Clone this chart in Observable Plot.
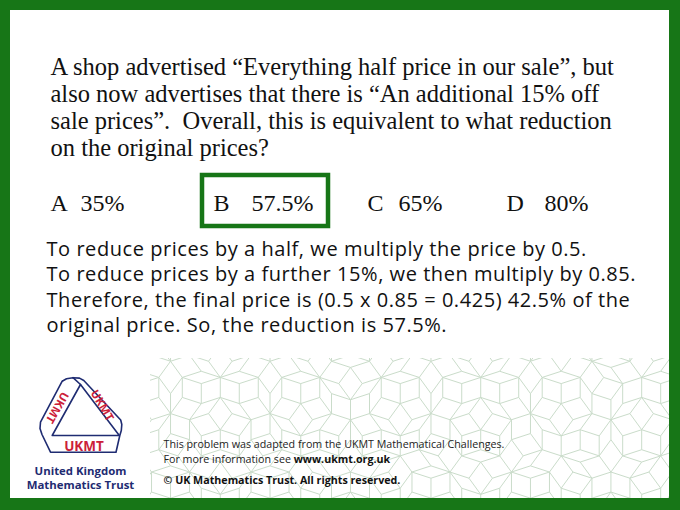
<!DOCTYPE html>
<html>
<head>
<meta charset="utf-8">
<script src="https://cdn.jsdelivr.net/npm/d3@7"></script>
<script src="https://cdn.jsdelivr.net/npm/@observablehq/plot@0.6"></script>
<style>
  html, body { margin: 0; padding: 0; background: #fff; }
  #chart svg { display: block; }
</style>
</head>
<body>
<div id="chart"></div>
<script>
// ---------- content ----------
const questionLines = [
  "A shop advertised “Everything half price in our sale”, but",
  "also now advertises that there is “An additional 15% off",
  "sale prices”.\u00a0 Overall, this is equivalent to what reduction",
  "on the original prices?"
];
const optionLetters = ["A", "B", "C", "D"];
const optionValues = ["35%", "57.5%", "65%", "80%"];
const correctOption = "B";
const explanationLines = [
  "To reduce prices by a half, we multiply the price by 0.5.",
  "To reduce prices by a further 15%, we then multiply by 0.85.",
  "Therefore, the final price is (0.5 x 0.85 = 0.425) 42.5% of the",
  "original price. So, the reduction is 57.5%."
];
const footerLine1 = "This problem was adapted from the UKMT Mathematical Challenges.";
const footerLine2a = "For more information see ";
const footerLine2b = "www.ukmt.org.uk";
const footerLine3 = "© UK Mathematics Trust. All rights reserved.";
const logoName = ["United Kingdom", "Mathematics Trust"];
const logoBand = "UKMT";

// ---------- layout & style ----------
const W = 680, H = 510;
const GREEN = "#177617";
const inner = {x1: 10, x2: 669, y1: 10, y2: 498};
const patternBox = {x1: 150, x2: 669, y1: 358, y2: 498};
const q = {x: 50, y0: 74, dy: 27, size: 24.5, font: "'Liberation Serif', 'Times New Roman', serif"};
const opt = {y: 210, size: 24, letterX: [50, 213, 367, 506], valueX: [80, 251, 398, 544]};
const box = {x1: 202, x2: 328, y1: 175, y2: 226};
const ex = {x: 46, y0: 255, dy: 25.5, size: 20, spacing: 0.55, font: "'Open Sans', sans-serif"};
const foot = {x: 163, y: [447, 462, 483], size: 10.7};
const NAVY = "#1f2c72", RED = "#cc1f3a";

// ---------- Penrose rhombus background (decoration) ----------
function penroseSegments(cx, cy, R, n) {
  const phi = (1 + Math.sqrt(5)) / 2;
  let tris = [];
  for (let i = 0; i < 10; i++) {
    let b = [R * Math.cos((2 * i - 1) * Math.PI / 10), R * Math.sin((2 * i - 1) * Math.PI / 10)];
    let c = [R * Math.cos((2 * i + 1) * Math.PI / 10), R * Math.sin((2 * i + 1) * Math.PI / 10)];
    if (i % 2 === 0) [b, c] = [c, b];
    tris.push([0, [0, 0], b, c]);
  }
  const lerp = (p, s, t) => [p[0] + (s[0] - p[0]) * t, p[1] + (s[1] - p[1]) * t];
  for (let k = 0; k < n; k++) {
    const next = [];
    for (const [col, A, B, C] of tris) {
      if (col === 0) {
        const P = lerp(A, B, 1 / phi);
        next.push([0, C, P, B], [1, P, C, A]);
      } else {
        const Q = lerp(B, A, 1 / phi), Rr = lerp(B, C, 1 / phi);
        next.push([1, Rr, C, A], [1, Q, Rr, B], [0, Rr, Q, A]);
      }
    }
    tris = next;
  }
  const seen = new Set(), segs = [];
  const inside = p => p[0] > patternBox.x1 - 30 && p[0] < patternBox.x2 + 30 && p[1] > patternBox.y1 - 30 && p[1] < patternBox.y2 + 30;
  const add = (p, s) => {
    const a = [p[0] + cx, p[1] + cy], b = [s[0] + cx, s[1] + cy];
    if (!inside(a) && !inside(b)) return;
    const k1 = a.map(v => v.toFixed(1)).join(","), k2 = b.map(v => v.toFixed(1)).join(",");
    const key = k1 < k2 ? k1 + "|" + k2 : k2 + "|" + k1;
    if (seen.has(key)) return;
    seen.add(key);
    segs.push({x1: a[0], y1: a[1], x2: b[0], y2: b[1]});
  };
  for (const [, A, B, C] of tris) { add(C, A); add(A, B); }
  return segs;
}
const patternSegs = penroseSegments(350, 250, 580, 7);

// ---------- logo geometry ----------
const logoOutline = [
  [61.7, 380.7], [66, 378.3], [72.5, 377.2], [79, 377.6], [83.3, 380],
  [120.2, 419.5], [121.3, 424], [120.8, 430], [119.3, 435],
  [115.5, 451.7], [50, 451.7], [41.5, 434], [39.5, 428], [40, 421.7], [61.7, 380.7]
];
const logoInner = [[80, 384], [51.7, 435], [118.8, 435], [80, 384]];
const logoCross = [[72.5, 377.2], [80, 384]];
const logoLines = [
  ...logoOutline.map(p => ({x: p[0], y: p[1], g: "o"})),
  ...logoInner.map(p => ({x: p[0], y: p[1], g: "i"})),
  ...logoCross.map(p => ({x: p[0], y: p[1], g: "c"}))
];
const logoTexts = [
  {x: 83.5, y: 446, r: 0, s: 13.5},
  {x: 56.5, y: 407, r: 120, s: 11.5},
  {x: 101.5, y: 405, r: 60, s: 11.5}
];

// measure text for the mixed-weight footer line
const ctx = document.createElement("canvas").getContext("2d");
ctx.font = `${foot.size}px 'Open Sans'`;
const footer2aWidth = ctx.measureText(footerLine2a).width;

const textBase = {textAnchor: "start", lineAnchor: "bottom"};

const chart = Plot.plot({
  width: W, height: H, margin: 0,
  x: {domain: [0, W], range: [0, W], axis: null},
  y: {domain: [0, H], range: [0, H], axis: null},
  style: {background: GREEN},
  marks: [
    // white page
    Plot.rect([inner], {x1: "x1", x2: "x2", y1: "y1", y2: "y2", fill: "white"}),
    // pattern
    Plot.link(patternSegs, {x1: "x1", y1: "y1", x2: "x2", y2: "y2", stroke: "#cadcca", strokeWidth: 1}),
    // masks outside pattern area
    Plot.rect([{x1: inner.x1, x2: inner.x2, y1: inner.y1, y2: patternBox.y1}], {x1: "x1", x2: "x2", y1: "y1", y2: "y2", fill: "white"}),
    Plot.rect([{x1: inner.x1, x2: patternBox.x1, y1: inner.y1, y2: inner.y2}], {x1: "x1", x2: "x2", y1: "y1", y2: "y2", fill: "white"}),
    // green frame edges (cover pattern overflow)
    Plot.rect([{x1: inner.x2, x2: W, y1: 0, y2: H}, {x1: 0, x2: W, y1: inner.y2, y2: H}], {x1: "x1", x2: "x2", y1: "y1", y2: "y2", fill: GREEN}),
    // question
    Plot.text(questionLines.map((t, i) => ({t, i})), {
      ...textBase, x: () => q.x, y: d => q.y0 + d.i * q.dy, text: "t",
      fontFamily: q.font, fontSize: q.size, fill: "#111"
    }),
    // answer box
    Plot.rect([box], {x1: "x1", x2: "x2", y1: "y1", y2: "y2", fill: "none", stroke: GREEN, strokeWidth: 4.5}),
    // options
    Plot.text(optionLetters.map((t, i) => ({t, i})), {
      ...textBase, x: d => opt.letterX[d.i], y: () => opt.y, text: "t",
      fontFamily: q.font, fontSize: opt.size, fill: "#111"
    }),
    Plot.text(optionValues.map((t, i) => ({t, i})), {
      ...textBase, x: d => opt.valueX[d.i], y: () => opt.y, text: "t",
      fontFamily: q.font, fontSize: opt.size, fill: "#111"
    }),
    // explanation
    Plot.text(explanationLines.map((t, i) => ({t, i})), {
      ...textBase, x: () => ex.x, y: d => ex.y0 + d.i * ex.dy, text: "t",
      fontFamily: ex.font, fontSize: ex.size, fill: "#111"
    }),
    // footer
    Plot.text([footerLine1, footerLine2a], {
      ...textBase, x: () => foot.x, y: (d, i) => foot.y[i], text: d => d,
      fontFamily: ex.font, fontSize: foot.size, fill: "#222"
    }),
    Plot.text([footerLine2b], {
      ...textBase, x: () => foot.x + footer2aWidth, y: () => foot.y[1], text: d => d,
      fontFamily: ex.font, fontSize: foot.size, fontWeight: "bold", fill: "#111"
    }),
    Plot.text([footerLine3], {
      ...textBase, x: () => foot.x, y: () => foot.y[2], text: d => d,
      fontFamily: ex.font, fontSize: foot.size, fontWeight: "bold", fill: "#111"
    }),
    // logo
    Plot.rect([{x1: 36, x2: 126, y1: 372, y2: 456}], {x1: "x1", x2: "x2", y1: "y1", y2: "y2", fill: "white"}),
    Plot.line(logoLines, {x: "x", y: "y", z: "g", stroke: NAVY, strokeWidth: 1.6, curve: "linear", strokeLinejoin: "round"}),
    Plot.text(logoTexts, {
      x: "x", y: "y", rotate: "r", fontSize: d => d.s, text: () => logoBand,
      fontFamily: ex.font, fontWeight: "bold", fill: RED, textAnchor: "middle",
      lineAnchor: "middle"
    }),
    Plot.text(logoName, {
      x: () => 80, y: (d, i) => 474 + i * 14, text: d => d, textAnchor: "middle", lineAnchor: "bottom",
      fontFamily: ex.font, fontSize: 11.4, fontWeight: "bold", fill: NAVY
    })
  ]
});
// widen the explanation lines slightly to match the reference's set width
chart.querySelectorAll("text").forEach(t => {
  if (explanationLines.includes(t.textContent)) t.setAttribute("letter-spacing", ex.spacing);
});
document.getElementById("chart").appendChild(chart);
</script>
</body>
</html>
